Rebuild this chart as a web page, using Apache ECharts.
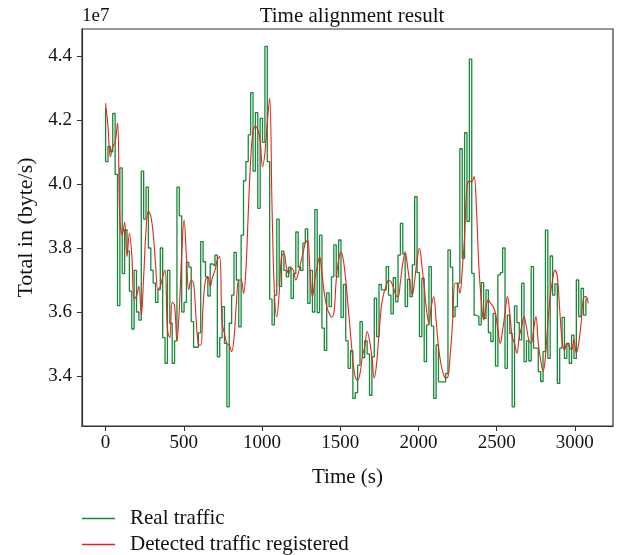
<!DOCTYPE html>
<html>
<head>
<meta charset="utf-8">
<script src="https://cdn.jsdelivr.net/npm/echarts@6/dist/echarts.min.js"></script>
<style>
  html, body { margin: 0; padding: 0; background: #fff; }
  #chart { width: 628px; height: 555px; }
</style>
</head>
<body>
<div id="chart"></div>
<script>
// values are in units of 1e7 byte/s, one sample every sampleInterval seconds
const sampleInterval = 15.2;

const realTraffic = [
  4.237, 4.07, 4.117, 4.10, 4.22, 4.03, 3.62, 4.05, 3.72, 3.857,
  3.79, 3.665, 3.547, 3.73, 3.60, 3.575, 4.04, 3.89, 3.99, 3.80,
  3.73, 3.69, 3.63, 3.67, 3.80, 3.52, 3.44, 3.73, 3.565, 3.44,
  3.51, 3.99, 3.90, 3.60, 3.63, 3.755, 3.74, 3.57, 3.49, 3.49,
  3.535, 3.82, 3.757, 3.71, 3.65, 3.75,
  3.744, 3.778, 3.46, 3.52, 3.617, 3.502, 3.304, 3.565, 3.653, 3.786,
  3.70, 3.554, 3.84, 4.01, 4.07, 4.153, 4.285, 4.04, 4.223, 3.924,
  4.205, 4.13, 4.43, 4.07, 3.64, 3.56, 3.653, 3.89, 3.68, 3.79,
  3.73, 3.71, 3.74, 3.643, 3.72, 3.85, 3.74, 3.73, 3.815, 3.86,
  3.627, 3.73, 3.60, 3.92, 3.598, 3.84, 3.55, 3.48, 3.66, 3.617,
  3.71, 3.81, 3.71, 3.825, 3.583, 3.686, 3.51, 3.424, 3.479, 3.33,
  3.348, 3.434, 3.57, 3.458, 3.51, 3.469, 3.34, 3.46, 3.643, 3.523,
  3.686, 3.669, 3.669, 3.742, 3.653, 3.594, 3.707, 3.632, 3.778, 3.877,
  3.781, 3.617, 3.702, 3.648, 3.747, 3.96, 3.723, 3.523, 3.705, 3.445,
  3.56, 3.742, 3.556, 3.33, 3.497, 3.382, 3.382, 3.382, 3.408, 3.794,
  3.74,
  3.586, 3.617, 3.69, 4.11, 3.768, 4.16, 3.883, 4.39, 3.721, 3.59,
  3.586, 3.56, 3.692, 3.58, 3.669, 3.536, 3.508, 3.596, 3.431, 3.716,
  3.723, 3.80, 3.424, 3.59, 3.533, 3.304, 3.619, 3.567, 3.513, 3.69,
  3.445, 3.51, 3.447, 3.742, 3.487, 3.487, 3.414, 3.383, 3.476, 3.856,
  3.455, 3.775, 3.653, 3.688, 3.377, 3.487, 3.583, 3.455, 3.502, 3.44,
  3.528, 3.455, 3.70, 3.586, 3.674, 3.59, 3.64
];

const detectedTraffic = [
  4.252, 4.18, 4.085, 4.117, 4.13, 4.19, 3.89, 3.84, 3.88, 3.773,
  3.846, 3.78, 3.64, 3.65, 3.68, 3.59, 3.71, 3.855, 3.915, 3.90,
  3.846, 3.75, 3.67, 3.68, 3.71, 3.73, 3.545, 3.52, 3.63, 3.62,
  3.51, 3.61, 3.78, 3.887, 3.773, 3.67, 3.70, 3.69, 3.586, 3.50,
  3.496, 3.62, 3.70, 3.71, 3.68, 3.71,
  3.73, 3.763, 3.773, 3.565, 3.533, 3.502, 3.497, 3.476, 3.518, 3.627,
  3.70, 3.70, 3.658, 3.73, 3.908, 4.075, 4.164, 4.18, 4.17, 4.137,
  4.054, 4.096, 4.19, 4.268, 3.929, 3.658, 3.585, 3.658, 3.773, 3.783,
  3.742, 3.72, 3.737, 3.73, 3.70, 3.72, 3.752, 3.783, 3.815, 3.825,
  3.72, 3.648, 3.70, 3.742, 3.773, 3.72, 3.658, 3.617, 3.596, 3.585,
  3.596, 3.70, 3.762, 3.788, 3.762, 3.70, 3.617, 3.533, 3.45, 3.398,
  3.387, 3.408, 3.46, 3.492, 3.539, 3.512, 3.46, 3.393, 3.44, 3.533,
  3.617, 3.658, 3.679, 3.70, 3.695, 3.679, 3.653, 3.648, 3.695, 3.752,
  3.788, 3.742, 3.69, 3.653, 3.70, 3.762, 3.799, 3.747, 3.679, 3.606,
  3.565, 3.617, 3.648, 3.575, 3.492, 3.44, 3.408, 3.393, 3.398, 3.471,
  3.575,
  3.69, 3.69, 3.659, 3.73, 3.836, 3.992, 4.008, 4.008, 4.023, 3.919,
  3.742, 3.638, 3.575, 3.617, 3.638, 3.627, 3.617, 3.596, 3.544, 3.502,
  3.544, 3.596, 3.648, 3.596, 3.523, 3.502, 3.471, 3.523, 3.554, 3.586,
  3.554, 3.513, 3.502, 3.544, 3.586, 3.502, 3.45, 3.414, 3.46, 3.565,
  3.648, 3.70, 3.731, 3.71, 3.607, 3.513, 3.481, 3.502, 3.492, 3.481,
  3.513, 3.471, 3.502, 3.565, 3.643, 3.648, 3.627
];

const xTicks = [0, 500, 1000, 1500, 2000, 2500, 3000];
const yTicks = [3.4, 3.6, 3.8, 4.0, 4.2, 4.4];

const FONT = '"Liberation Serif", "DejaVu Serif", serif';

const toPairs = (vals) => vals.map((v, i) => [i * sampleInterval, v]);

const chart = echarts.init(document.getElementById('chart'), null, { renderer: 'canvas' });

const option = {
  animation: false,
  backgroundColor: '#fff',
  textStyle: { fontFamily: FONT, color: '#111' },
  title: {
    text: 'Time alignment result',
    left: 347,
    textAlign: 'center',
    top: 1,
    textStyle: { fontFamily: FONT, fontSize: 21, fontWeight: 'normal', color: '#111' }
  },
  graphic: [{
    type: 'text',
    left: 82,
    top: 7,
    style: { text: '1e7', font: '19px ' + FONT, fill: '#111' }
  }],
  legend: {
    orient: 'vertical',
    left: 82,
    top: 508,
    padding: 0,
    itemWidth: 33,
    itemHeight: 1.5,
    itemGap: 5,
    icon: 'rect',
    textStyle: { fontFamily: FONT, fontSize: 21, color: '#111', padding: [0, 0, 0, 10], lineHeight: 21 },
    data: ['Real traffic', 'Detected traffic registered']
  },
  grid: {
    left: 82,
    right: 15,
    top: 29,
    bottom: 129,
    show: true,
    borderColor: '#333',
    borderWidth: 1.2
  },
  xAxis: {
    type: 'value',
    min: -151,
    max: 3244,
    name: 'Time (s)',
    nameLocation: 'middle',
    nameGap: 41,
    nameTextStyle: { fontFamily: FONT, fontSize: 21, color: '#111' },
    axisLine: { show: true, onZero: false, lineStyle: { color: '#333', width: 1.2 } },
    axisTick: { show: true, length: 5, customValues: xTicks, lineStyle: { color: '#333' } },
    axisLabel: {
      customValues: xTicks,
      margin: 8,
      fontFamily: FONT,
      fontSize: 19,
      color: '#111',
      formatter: (v) => String(v)
    },
    splitLine: { show: false }
  },
  yAxis: {
    type: 'value',
    min: 3.244,
    max: 4.484,
    name: 'Total in (byte/s)',
    nameLocation: 'middle',
    nameGap: 43,
    nameTextStyle: { fontFamily: FONT, fontSize: 22, color: '#111' },
    axisLine: { show: true, onZero: false, lineStyle: { color: '#333', width: 1.2 } },
    axisTick: { show: true, length: 5, customValues: yTicks, lineStyle: { color: '#333' } },
    axisLabel: {
      customValues: yTicks,
      margin: 10,
      fontFamily: FONT,
      fontSize: 19,
      color: '#111',
      formatter: (v) => v.toFixed(1)
    },
    splitLine: { show: false }
  },
  series: [
    {
      name: 'Real traffic',
      type: 'line',
      step: 'start',
      data: toPairs(realTraffic),
      showSymbol: false,
      color: '#17893b',
      lineStyle: { color: '#17893b', width: 1.3 },
      z: 2
    },
    {
      name: 'Detected traffic registered',
      type: 'line',
      smooth: 0.4,
      data: toPairs(detectedTraffic),
      showSymbol: false,
      color: '#e2261c',
      lineStyle: { color: '#e2261c', width: 1.1 },
      z: 3
    }
  ]
};

chart.setOption(option);
</script>
</body>
</html>
